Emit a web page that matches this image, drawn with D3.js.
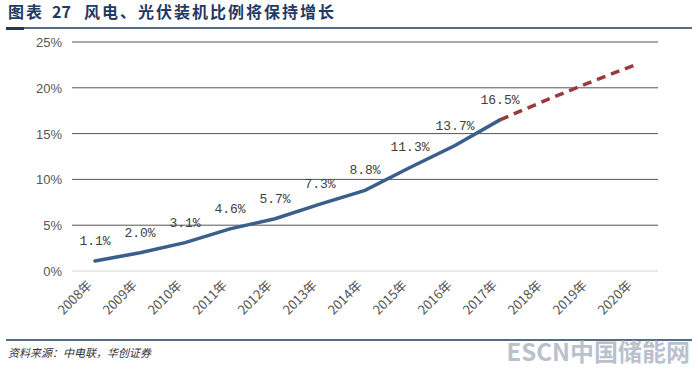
<!DOCTYPE html>
<html><head><meta charset="utf-8">
<script src="https://cdn.jsdelivr.net/npm/d3@7"></script>
<style>body{margin:0;background:#fff;}svg{display:block;}</style>
</head><body>
<script>
const years = ["2008年","2009年","2010年","2011年","2012年","2013年","2014年","2015年","2016年","2017年","2018年","2019年","2020年"];
const actual = [1.1, 2.0, 3.1, 4.6, 5.7, 7.3, 8.8, 11.3, 13.7, 16.5];
const projected = [16.5, 18.6, 20.6, 22.5];
const projYears = ["2017年","2018年","2019年","2020年"];
const yTicks = [0, 5, 10, 15, 20, 25];

const W = 698, H = 369;
const svg = d3.select("body").append("svg").attr("width", W).attr("height", H);

const x = d3.scalePoint().domain(years).range([95, 635]);
const y = d3.scaleLinear().domain([0, 25]).range([271, 42]);

// title
const tfont = "Noto Sans CJK SC";
svg.append("text").attr("x", 8).attr("y", 18)
  .attr("font-family", tfont).attr("font-weight", "bold")
  .attr("font-size", 16).attr("fill", "#1f3a64").attr("letter-spacing", 2)
  .text("图表");
svg.append("text").attr("x", 52).attr("y", 18)
  .attr("font-family", tfont).attr("font-weight", "bold")
  .attr("font-size", 16).attr("fill", "#1f3a64")
  .text("27");
svg.append("text").attr("x", 84).attr("y", 18)
  .attr("font-family", tfont).attr("font-weight", "bold")
  .attr("font-size", 16).attr("fill", "#1f3a64").attr("letter-spacing", 2)
  .text("风电、光伏装机比例将保持增长");
svg.append("line").attr("x1", 6).attr("x2", 692).attr("y1", 28).attr("y2", 28)
  .attr("stroke", "#1b3a5c").attr("stroke-width", 1.5);
svg.append("rect").attr("x", 6).attr("y", 27).attr("width", 18).attr("height", 3).attr("fill", "#1b3a5c");

// grid
const g = svg.append("g");
g.selectAll("line.grid").data(yTicks).join("line")
  .attr("x1", 72).attr("x2", 658)
  .attr("y1", d => y(d)).attr("y2", d => y(d))
  .attr("stroke", d => d === 0 ? "#d0d0d0" : "#555").attr("stroke-width", 1);
g.selectAll("text.ytick").data(yTicks).join("text")
  .attr("x", 62).attr("y", d => y(d) + 5).attr("text-anchor", "end")
  .attr("font-family", "Liberation Sans, Arial").attr("font-size", 13).attr("fill", "#555")
  .text(d => d + "%");

// x labels
g.selectAll("text.xtick").data(years).join("text")
  .attr("transform", d => `translate(${x(d) - 2},${286}) rotate(-45)`)
  .attr("text-anchor", "end")
  .attr("font-family", "Noto Sans CJK SC").attr("font-size", 13).attr("fill", "#555")
  .text(d => d);

// lines
const line = d3.line().x(d => x(d[0])).y(d => y(d[1]));
svg.append("path").datum(years.slice(0, actual.length).map((d, i) => [d, actual[i]]))
  .attr("d", line).attr("fill", "none").attr("stroke", "#3a5f8c").attr("stroke-width", 3.5)
  .attr("stroke-linecap", "round");
svg.append("path").datum(projYears.map((d, i) => [d, projected[i]]))
  .attr("d", line).attr("fill", "none").attr("stroke", "#9b3a3a").attr("stroke-width", 3.5)
  .attr("stroke-dasharray", "9,6");

// data labels
svg.selectAll("text.lbl").data(actual).join("text")
  .attr("x", (d, i) => x(years[i])).attr("y", d => y(d) - 16)
  .attr("text-anchor", "middle")
  .attr("font-family", "Liberation Mono, DejaVu Sans Mono").attr("font-size", 13).attr("fill", "#404040")
  .text(d => d.toFixed(1) + "%");

// bottom
svg.append("line").attr("x1", 6).attr("x2", 692).attr("y1", 340).attr("y2", 340)
  .attr("stroke", "#1b3a5c").attr("stroke-width", 1.5);
svg.append("text").attr("x", 8).attr("y", 357)
  .attr("font-family", "Noto Sans CJK SC").attr("font-size", 11).attr("font-style", "italic")
  .attr("fill", "#333").text("资料来源：中电联，华创证券");
svg.append("text").attr("x", 690).attr("y", 361).attr("text-anchor", "end")
  .attr("font-family", "Noto Sans CJK SC").attr("font-weight", "bold").attr("font-size", 24)
  .attr("fill", "#a8b4c0").attr("opacity", 0.8).text("ESCN中国储能网");
</script>
</body></html>
